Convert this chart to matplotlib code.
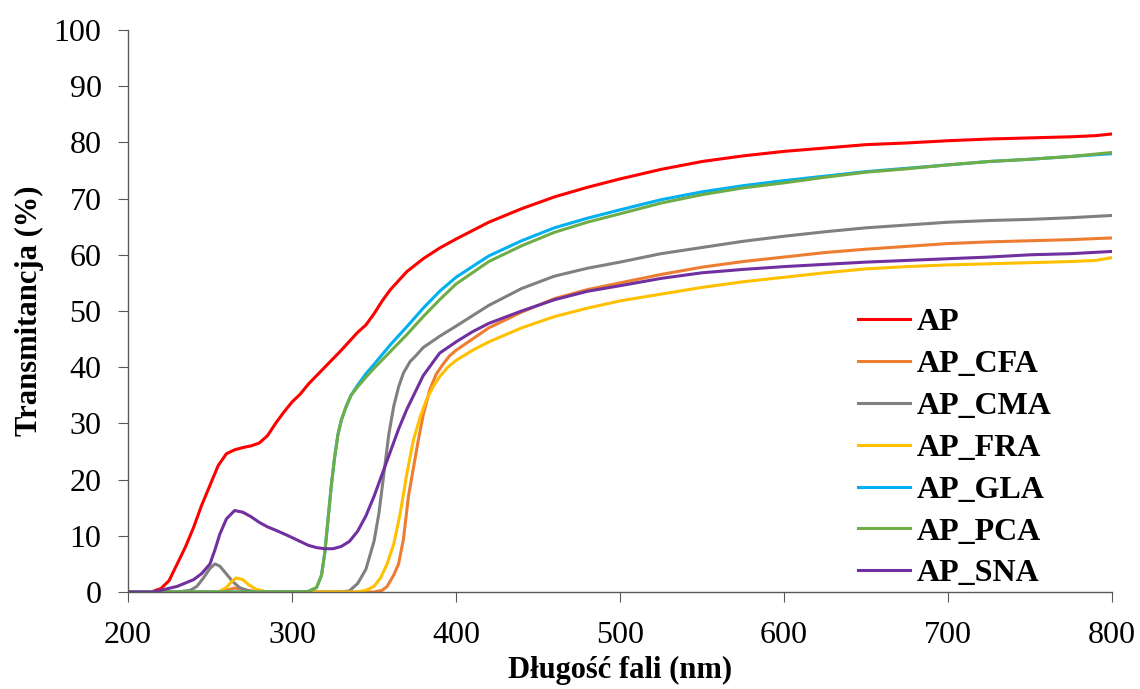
import matplotlib
matplotlib.use("Agg")
import matplotlib.pyplot as plt

# wavelength (nm) / transmittance (%)
ap_wl = [200, 210, 215, 220, 225, 230, 235, 240, 245, 250, 255, 260, 265, 270, 275, 280, 285, 290, 295,
         300, 305, 310, 320, 330, 340, 345, 350, 355, 360, 370, 380, 390, 400, 420, 440, 460, 480, 500,
         525, 550, 575, 600, 625, 650, 675, 700, 725, 750, 775, 790, 800]
ap_t = [0, 0, 0.1, 0.6, 2, 5, 8, 11.5, 15.5, 19, 22.5, 24.6, 25.3, 25.7, 26, 26.5, 27.8, 30, 32,
        33.8, 35.2, 37, 40, 43, 46.2, 47.5, 49.5, 51.8, 53.8, 57, 59.3, 61.2, 62.8, 65.8, 68.2, 70.3, 72, 73.5,
        75.2, 76.6, 77.6, 78.4, 79, 79.6, 79.9, 80.3, 80.6, 80.8, 81, 81.2, 81.5]

cfa_wl = [200, 255, 260, 265, 270, 275, 280, 350, 355, 358, 362, 365, 368, 371, 374, 377, 380, 384, 388,
          392, 396, 400, 410, 420, 440, 460, 480, 500, 525, 550, 575, 600, 625, 650, 675, 700, 725, 750,
          775, 800]
cfa_t = [0, 0, 0.3, 0.7, 0.5, 0.2, 0, 0, 0.3, 1, 3, 5, 9.5, 17, 22, 27, 31.5, 36, 38.8,
         40.5, 42, 43, 45, 47, 49.8, 52.2, 53.8, 55, 56.5, 57.8, 58.8, 59.6, 60.4, 61, 61.5, 62, 62.3, 62.5,
         62.7, 63]

cma_wl = [200, 230, 238, 242, 246, 250, 253, 256, 260, 264, 268, 272, 276, 280, 300, 330, 335, 340, 345,
          350, 353, 356, 359, 362, 365, 368, 372, 376, 380, 390, 400, 420, 440, 460, 480, 500, 525, 550,
          575, 600, 625, 650, 675, 700, 725, 750, 775, 800]
cma_t = [0, 0, 0.3, 1, 2.5, 4.2, 5, 4.6, 3.2, 1.8, 0.8, 0.3, 0.1, 0, 0, 0, 0.2, 1.5, 4,
         9, 14, 21, 28, 33, 36.5, 39, 41, 42.2, 43.5, 45.5, 47.3, 51, 54, 56.2, 57.6, 58.7, 60.2, 61.3,
         62.4, 63.3, 64.1, 64.8, 65.3, 65.8, 66.1, 66.3, 66.6, 67]

fra_wl = [200, 255, 260, 263, 266, 270, 274, 278, 285, 340, 345, 350, 354, 358, 362, 366, 370, 374, 378,
          382, 386, 390, 395, 400, 410, 420, 440, 460, 480, 500, 525, 550, 575, 600, 625, 650, 675, 700,
          725, 750, 775, 790, 800]
fra_t = [0, 0, 0.8, 1.8, 2.5, 2.2, 1.2, 0.5, 0, 0, 0.3, 1, 2.5, 5, 8.5, 14, 21, 27, 31,
         34.2, 36.5, 38.3, 40, 41.2, 43, 44.5, 47, 49, 50.5, 51.8, 53, 54.2, 55.2, 56, 56.8, 57.5, 57.9, 58.2,
         58.4, 58.6, 58.8, 59, 59.5]

gla_wl = [200, 300, 310, 315, 318, 320, 322, 324, 326, 328, 330, 333, 336, 340, 345, 350, 360, 370, 380,
          390, 400, 420, 440, 460, 480, 500, 525, 550, 575, 600, 625, 650, 675, 700, 725, 750, 775, 800]
gla_t = [0, 0, 0.1, 0.8, 3, 7, 13, 19, 24, 28, 30.5, 33, 35, 36.8, 38.8, 40.5, 44, 47.2, 50.5,
         53.5, 56, 59.8, 62.5, 64.8, 66.5, 68, 69.8, 71.2, 72.3, 73.2, 74, 74.8, 75.4, 76, 76.6, 77, 77.5, 78]

pca_wl = gla_wl
pca_t = [0, 0, 0.1, 0.8, 3, 7, 13, 19, 24, 28, 30.5, 33, 35, 36.5, 38.2, 39.8, 42.8, 45.8, 49,
         52, 54.8, 58.8, 61.6, 64, 65.8, 67.3, 69.2, 70.7, 71.9, 72.8, 73.8, 74.7, 75.3, 76, 76.6, 77, 77.5, 78.2]

sna_wl = [200, 215, 220, 230, 240, 245, 250, 253, 256, 260, 265, 270, 275, 280, 285, 290, 297, 305, 310,
          315, 320, 325, 330, 335, 340, 345, 350, 355, 360, 365, 370, 375, 380, 390, 400, 410, 420, 440,
          460, 480, 500, 525, 550, 575, 600, 625, 650, 675, 700, 725, 750, 775, 800]
sna_t = [0, 0, 0.3, 1, 2.2, 3.3, 5, 7.5, 10.3, 13, 14.5, 14.2, 13.4, 12.4, 11.6, 11, 10.1, 9, 8.3,
         7.9, 7.7, 7.7, 8.1, 9, 10.8, 13.5, 17, 21, 25, 29, 32.5, 35.5, 38.5, 42.5, 44.5, 46.3, 47.8, 50,
         52, 53.5, 54.5, 55.8, 56.8, 57.4, 57.9, 58.3, 58.7, 59, 59.3, 59.6, 60, 60.2, 60.6]

series = [
    ("AP", ap_wl, ap_t, "#FF0000"),
    ("AP_CFA", cfa_wl, cfa_t, "#ED7D31"),
    ("AP_CMA", cma_wl, cma_t, "#808080"),
    ("AP_FRA", fra_wl, fra_t, "#FFC000"),
    ("AP_GLA", gla_wl, gla_t, "#00B0F0"),
    ("AP_PCA", pca_wl, pca_t, "#70AD47"),
    ("AP_SNA", sna_wl, sna_t, "#7030A0"),
]

plt.rcParams['font.family'] = ['Liberation Serif', 'DejaVu Serif']

fig = plt.figure(figsize=(11.4, 6.89), dpi=100)
ax = fig.add_axes([128 / 1140, 97 / 689, 984 / 1140, 562 / 689])

for name, wl, t, col in series:
    ax.plot(wl, t, color=col, lw=2.2, label=name)

ax.set_xlim(200, 800)
ax.set_ylim(0, 100)
ax.set_xticks(range(200, 801, 100))
ax.set_yticks(range(0, 101, 10))
for s in ['top', 'right']:
    ax.spines[s].set_visible(False)
for s in ['left', 'bottom']:
    ax.spines[s].set_color('#595959')
    ax.spines[s].set_linewidth(1.0)
ax.tick_params(axis='both', direction='out', length=7, color='#595959', labelsize=23)
ax.tick_params(axis='x', pad=14)
ax.tick_params(axis='y', pad=12)

ax.set_xlabel('Długość fali (nm)', fontsize=22, fontweight='bold')
ax.set_ylabel('Transmitancja (%)', fontsize=22, fontweight='bold')
ax.xaxis.set_label_coords(0.5, -0.114)
ax.yaxis.set_label_coords(-0.085, 0.5)

leg = ax.legend(loc='upper left', bbox_to_anchor=(0.7287, 0.528), frameon=False,
                prop={'size': 23, 'weight': 'bold'}, handlelength=1.63, handletextpad=0.22,
                labelspacing=0.39, borderaxespad=0)

fig.savefig('out.png', dpi=100)
